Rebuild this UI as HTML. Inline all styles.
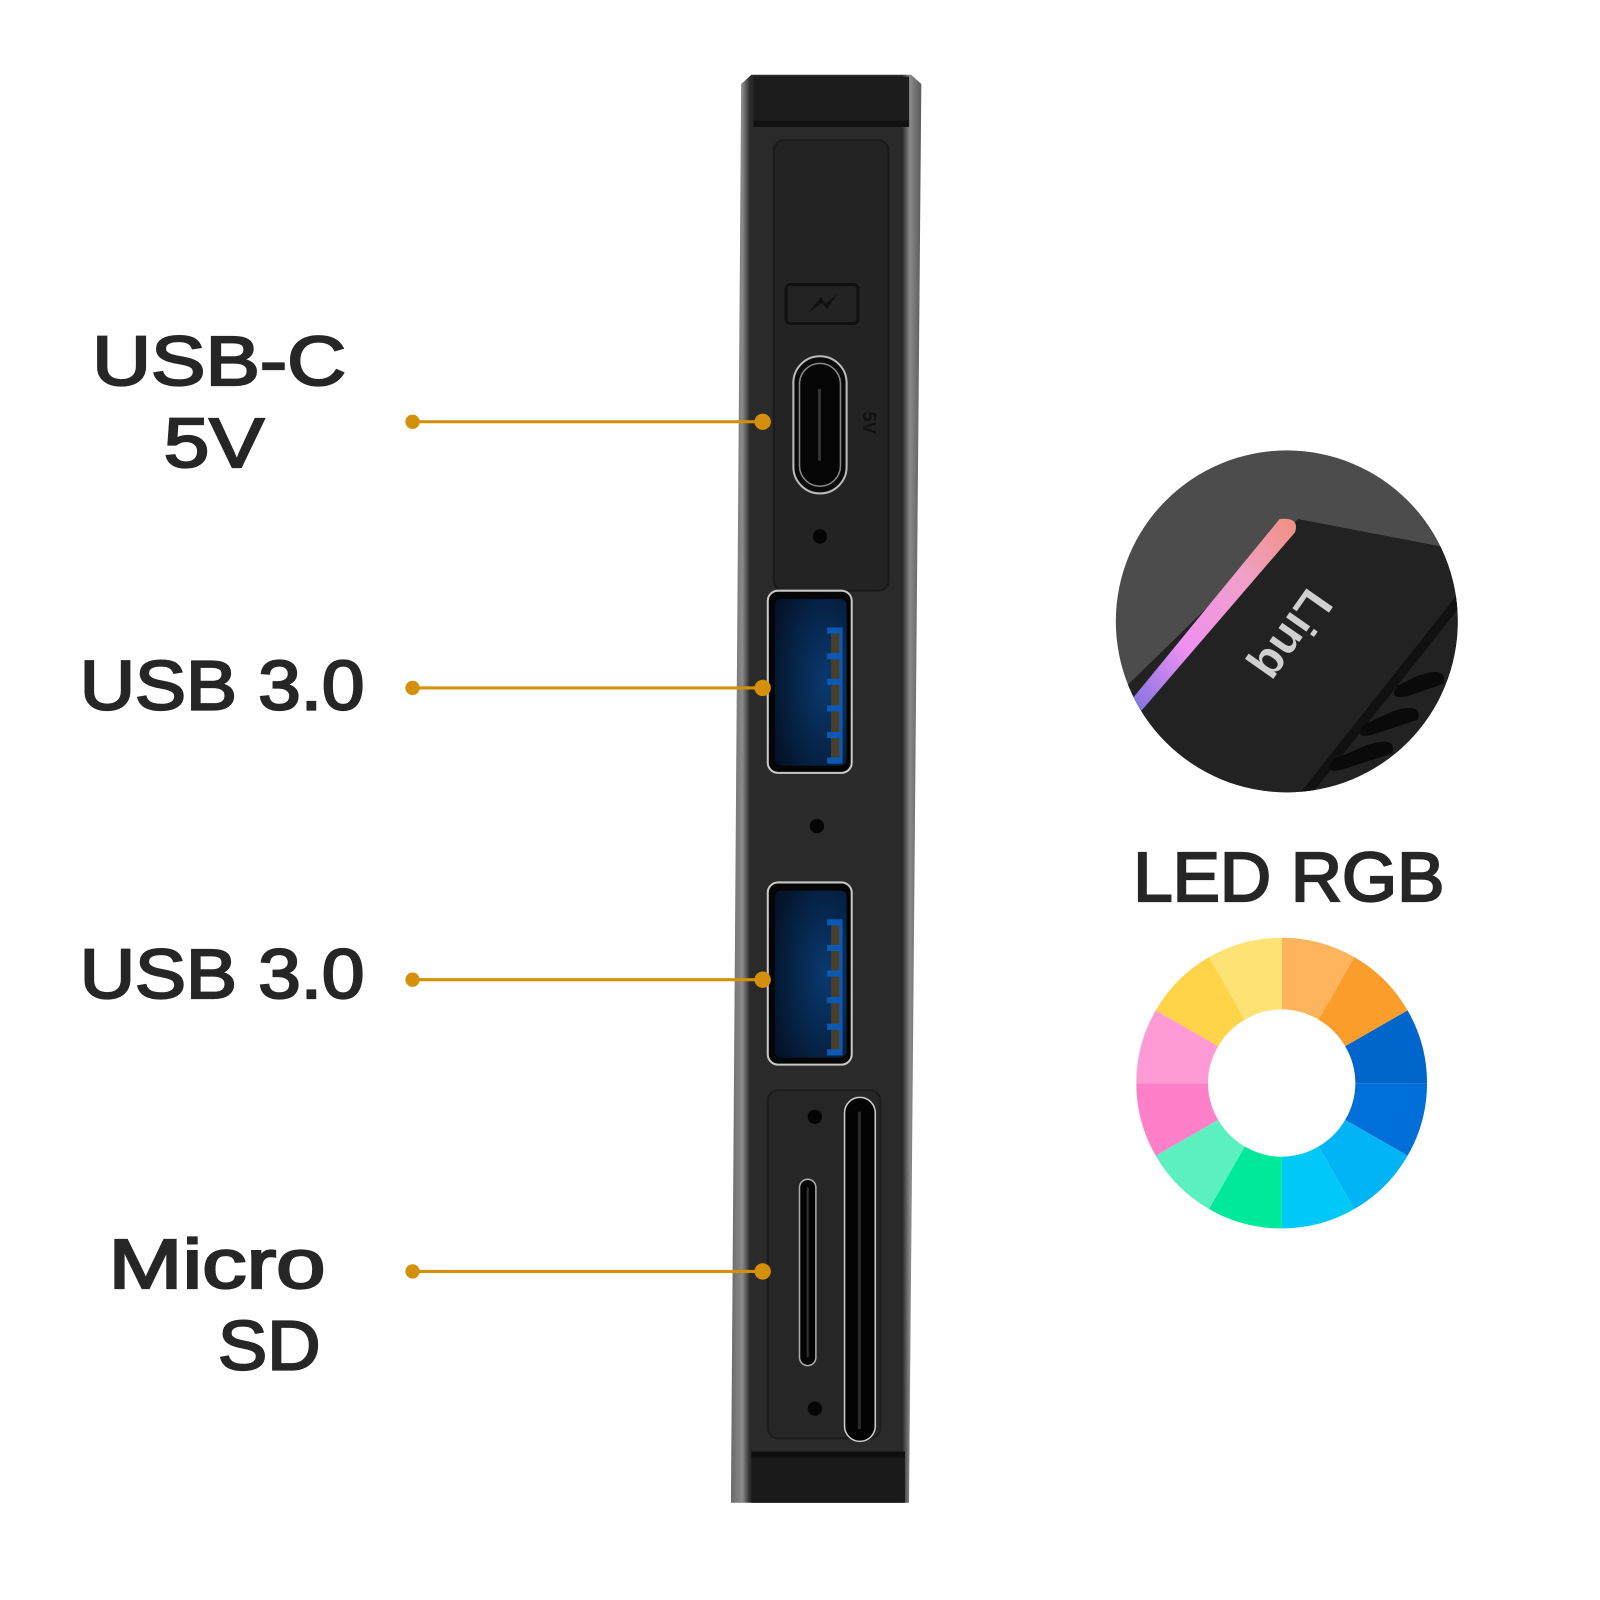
<!DOCTYPE html>
<html><head><meta charset="utf-8"><style>html,body{margin:0;padding:0;background:#fff}svg{display:block}</style></head>
<body>
<svg width="1600" height="1600" viewBox="0 0 1600 1600" xmlns="http://www.w3.org/2000/svg">
<defs>
<linearGradient id="frame" x1="0" x2="1">
<stop offset="0" stop-color="#6a6a6a"/><stop offset="0.06" stop-color="#8a8a8a"/><stop offset="0.1" stop-color="#2a2a2a"/><stop offset="0.9" stop-color="#2a2a2a"/><stop offset="0.94" stop-color="#8a8a8a"/><stop offset="1" stop-color="#5a5a5a"/>
</linearGradient>
<radialGradient id="blue" cx="0.7" cy="0.5" r="0.8"><stop offset="0" stop-color="#0a3a70"/><stop offset="1" stop-color="#031228"/></radialGradient>
<linearGradient id="led" x1="0" y1="1" x2="1" y2="0"><stop offset="0" stop-color="#7070e0"/><stop offset="0.35" stop-color="#f090f0"/><stop offset="0.7" stop-color="#f0a0c8"/><stop offset="1" stop-color="#f09080"/></linearGradient>
<clipPath id="circ"><circle cx="1257" cy="607" r="167"/></clipPath>
</defs>
<g transform="scale(1.0237)">
<!-- device -->
<path d="M724 82 L734 73 L890 73 L900 82 L888 1468 L714 1468 Z" fill="url(#frame)"/>
<rect x="736" y="75" width="152" height="48" fill="#1c1c1c"/>
<rect x="736" y="118" width="152" height="6" fill="#111"/>
<rect x="734" y="1418" width="150" height="50" fill="#1a1a1a"/>
<rect x="734" y="1418" width="150" height="6" fill="#0e0e0e"/>
<rect x="756" y="137" width="112" height="440" rx="10" fill="#232323" stroke="#1a1a1a" stroke-width="2"/>
<rect x="750" y="1065" width="110" height="340" rx="10" fill="#262626" stroke="#1c1c1c" stroke-width="2"/>
<!-- battery icon -->
<rect x="768" y="278" width="70" height="38" rx="4" fill="none" stroke="#111" stroke-width="3"/>
<path d="M790 305 L802 290 L806 297 L818 287 L808 302 L803 296 Z" fill="#111"/>
<!-- usb c -->
<rect x="775" y="348" width="52" height="134" rx="26" fill="#0a0a0a" stroke="#bbb" stroke-width="2"/>
<rect x="781" y="355" width="40" height="120" rx="20" fill="#050505" stroke="#888" stroke-width="1.5"/>
<rect x="799" y="380" width="3" height="70" fill="#333"/>
<text x="0" y="0" transform="translate(843,413) rotate(90)" font-family="Liberation Sans, sans-serif" font-weight="bold" font-size="18" fill="#111" text-anchor="middle">5V</text>
<!-- holes -->
<circle cx="801" cy="524" r="7" fill="#050505"/>
<circle cx="798" cy="807" r="7" fill="#050505"/>
<circle cx="796" cy="1091" r="7" fill="#050505"/>
<circle cx="796" cy="1376" r="7" fill="#050505"/>
<!-- usb a 1 -->
<g>
<rect x="750" y="577" width="82" height="178" rx="10" fill="#050505" stroke="#c8c8c8" stroke-width="2"/>
<rect x="757" y="585" width="70" height="163" rx="6" fill="url(#blue)"/>
<rect x="812" y="613" width="11" height="133" fill="#0a5ab4"/>
<g fill="#0a5ab4"><rect x="808" y="613" width="6" height="6"/><rect x="808" y="638" width="6" height="6"/><rect x="808" y="663" width="6" height="6"/><rect x="808" y="689" width="6" height="6"/><rect x="808" y="715" width="6" height="6"/><rect x="808" y="740" width="6" height="6"/></g>
<g fill="#4a3e2a"><rect x="812" y="619" width="8" height="19"/><rect x="812" y="644" width="8" height="19"/><rect x="812" y="669" width="8" height="20"/><rect x="812" y="695" width="8" height="20"/><rect x="812" y="721" width="8" height="19"/></g>
</g>
<g transform="translate(0,285)">
<rect x="750" y="577" width="82" height="178" rx="10" fill="#050505" stroke="#c8c8c8" stroke-width="2"/>
<rect x="757" y="585" width="70" height="163" rx="6" fill="url(#blue)"/>
<rect x="812" y="613" width="11" height="133" fill="#0a5ab4"/>
<g fill="#0a5ab4"><rect x="808" y="613" width="6" height="6"/><rect x="808" y="638" width="6" height="6"/><rect x="808" y="663" width="6" height="6"/><rect x="808" y="689" width="6" height="6"/><rect x="808" y="715" width="6" height="6"/><rect x="808" y="740" width="6" height="6"/></g>
<g fill="#4a3e2a"><rect x="812" y="619" width="8" height="19"/><rect x="812" y="644" width="8" height="19"/><rect x="812" y="669" width="8" height="20"/><rect x="812" y="695" width="8" height="20"/><rect x="812" y="721" width="8" height="19"/></g>
</g>
<!-- sd slots -->
<rect x="781" y="1152" width="16" height="182" rx="8" fill="#030303" stroke="#aaa" stroke-width="1.5"/>
<rect x="788" y="1160" width="2" height="166" fill="#333"/>
<rect x="825" y="1072" width="30" height="336" rx="15" fill="#030303" stroke="#ccc" stroke-width="1.5"/>
<rect x="838" y="1086" width="3" height="310" fill="#2a2a2a"/>

<!-- connectors -->
<g stroke="#d4900a" stroke-width="3" fill="#d4900a">
<line x1="403" y1="412" x2="745" y2="412"/><circle cx="403" cy="412" r="7" stroke="none"/><circle cx="745" cy="412" r="8" stroke="none"/>
<line x1="403" y1="672" x2="745" y2="672"/><circle cx="403" cy="672" r="7" stroke="none"/><circle cx="745" cy="672" r="8" stroke="none"/>
<line x1="403" y1="957" x2="745" y2="957"/><circle cx="403" cy="957" r="7" stroke="none"/><circle cx="745" cy="957" r="8" stroke="none"/>
<line x1="403" y1="1242" x2="745" y2="1242"/><circle cx="403" cy="1242" r="7" stroke="none"/><circle cx="745" cy="1242" r="8" stroke="none"/>
</g>

<!-- labels -->
<g font-family="Liberation Sans, sans-serif" font-size="68" fill="#262626" stroke="#262626" stroke-width="2.2">
<text x="90" y="376" textLength="248" lengthAdjust="spacingAndGlyphs">USB-C</text>
<text x="160" y="456" textLength="98" lengthAdjust="spacingAndGlyphs">5V</text>
<text x="78" y="693" textLength="278" lengthAdjust="spacingAndGlyphs">USB 3.0</text>
<text x="78" y="975" textLength="278" lengthAdjust="spacingAndGlyphs">USB 3.0</text>
<text x="106" y="1258" textLength="212" lengthAdjust="spacingAndGlyphs">Micro</text>
<text x="213" y="1338" textLength="100" lengthAdjust="spacingAndGlyphs">SD</text>
<text x="1107" y="880" textLength="304" lengthAdjust="spacingAndGlyphs">LED RGB</text>
</g>

<!-- LED zoom circle -->
<g clip-path="url(#circ)">
<rect x="1080" y="430" width="360" height="360" fill="#4c4c4c"/>
<path d="M1268 507 L1440 540 L1440 800 L1200 800 L1080 780 L1080 690 Z" fill="#222"/>
<path d="M1250 800 L1440 560 L1440 575 L1262 800 Z" fill="#111"/>
<path d="M1100 690 L1250 507 Q1270 505 1265 520 L1110 700 Z" fill="url(#led)"/>
<g fill="#0a0a0a"><path d="M1385 660 Q1415 650 1410 668 L1375 680 Q1355 684 1365 670Z"/><path d="M1360 695 Q1390 685 1385 703 L1340 718 Q1322 722 1332 708Z"/><path d="M1335 728 Q1365 718 1360 736 L1310 752 Q1292 756 1302 742Z"/></g>
<text x="0" y="0" transform="translate(1250,612) rotate(125)" font-family="Liberation Sans, sans-serif" font-weight="bold" font-size="46" fill="#d0d0d0" text-anchor="middle">Linq</text>
</g>

<!-- color wheel -->
<g>
<path d="M1252 916 A142 142 0 0 1 1323 935 L1288 996 A72 72 0 0 0 1252 986 Z" fill="#fdb45c"/>
<path d="M1323 935 A142 142 0 0 1 1375 987 L1314 1022 A72 72 0 0 0 1288 996 Z" fill="#fb9d2a"/>
<path d="M1375 987 A142 142 0 0 1 1394 1058 L1324 1058 A72 72 0 0 0 1314 1022 Z" fill="#0066cc"/>
<path d="M1394 1058 A142 142 0 0 1 1375 1129 L1314 1094 A72 72 0 0 0 1324 1058 Z" fill="#0070d8"/>
<path d="M1375 1129 A142 142 0 0 1 1323 1181 L1288 1120 A72 72 0 0 0 1314 1094 Z" fill="#00b4f5"/>
<path d="M1323 1181 A142 142 0 0 1 1252 1200 L1252 1130 A72 72 0 0 0 1288 1120 Z" fill="#00c8f8"/>
<path d="M1252 1200 A142 142 0 0 1 1181 1181 L1216 1120 A72 72 0 0 0 1252 1130 Z" fill="#00e89a"/>
<path d="M1181 1181 A142 142 0 0 1 1129 1129 L1190 1094 A72 72 0 0 0 1216 1120 Z" fill="#5cf0c0"/>
<path d="M1129 1129 A142 142 0 0 1 1110 1058 L1180 1058 A72 72 0 0 0 1190 1094 Z" fill="#ff80c8"/>
<path d="M1110 1058 A142 142 0 0 1 1129 987 L1190 1022 A72 72 0 0 0 1180 1058 Z" fill="#ff9ad6"/>
<path d="M1129 987 A142 142 0 0 1 1181 935 L1216 996 A72 72 0 0 0 1190 1022 Z" fill="#ffd448"/>
<path d="M1181 935 A142 142 0 0 1 1252 916 L1252 986 A72 72 0 0 0 1216 996 Z" fill="#ffe274"/>
</g>
</g>
</svg>
</body></html>
